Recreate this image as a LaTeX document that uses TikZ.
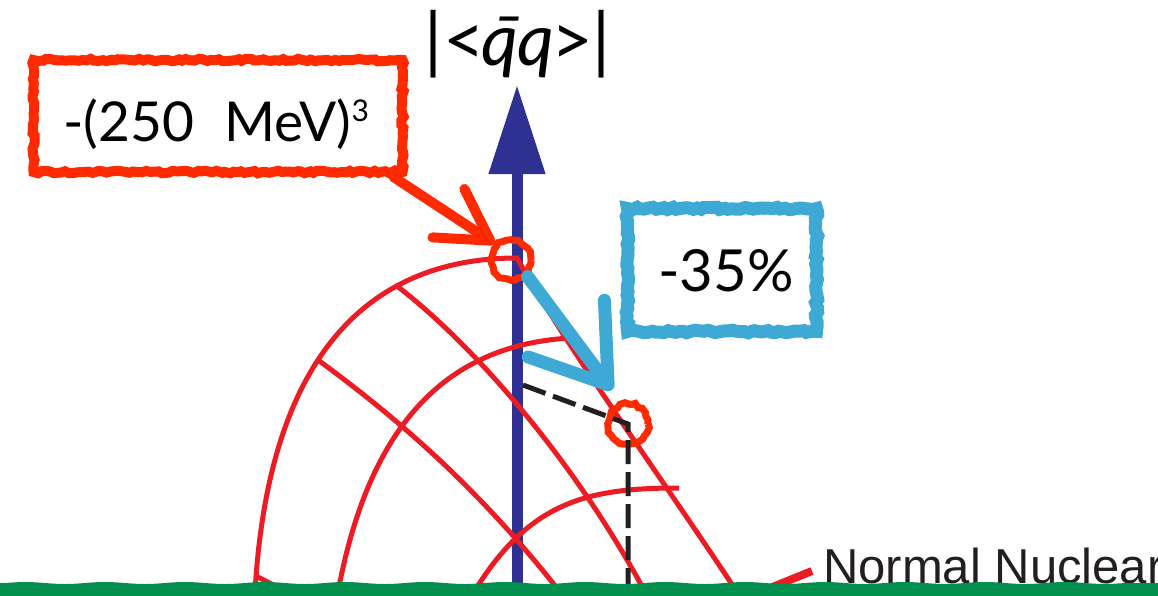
\documentclass[tikz,border=0pt]{standalone}
\usepackage{fontspec}
\setmainfont{Lato}
\newfontfamily\helv{Liberation Sans}
\usepackage{xcolor}
\usetikzlibrary{arrows.meta,decorations.pathmorphing}
\definecolor{phasered}{HTML}{ED1C24}
\definecolor{penred}{HTML}{FF2A00}
\definecolor{penblue}{HTML}{3FA9D6}
\definecolor{axisblue}{HTML}{2E3192}
\definecolor{grass}{HTML}{008F4C}
\definecolor{ink}{HTML}{231F20}
\pgfmathsetseed{7}

\begin{document}
\begin{tikzpicture}[x=1pt,y=-1pt,
  phase/.style={draw=phasered,line width=5pt},
  guide/.style={draw=ink,line width=5pt,dash pattern=on 24pt off 8pt},
  rough/.style={decorate,decoration={random steps,segment length=4pt,amplitude=1.3pt}},
  redbox/.style={draw=penred,line width=10pt,rough,minimum width=369pt,minimum height=112pt},
  bluebox/.style={draw=penblue,line width=13pt,rough,minimum width=189pt,minimum height=123pt},
  ring/.style={circle,draw=penred,line width=7pt,minimum size=40pt,inner sep=0pt,rough},
  redarr/.style={draw=penred,line width=10pt,line cap=round,-{Straight Barb[length=50pt,width=58pt,round]}},
  bluearr/.style={draw=penblue,line width=13pt,line cap=round,-{Straight Barb[length=70pt,width=95pt,round]}},
  axis/.style={draw=axisblue,line width=11pt,-{Triangle[length=89pt,width=54pt]}},
  big/.style={font=\fontsize{55}{58}\selectfont,text=black,inner sep=0pt}
]
\useasboundingbox (0,0) rectangle (1158,595);

% axis
\coordinate (axbase) at (517,595);
\coordinate (axtop) at (517,85);
\draw[axis] (axbase) -- (axtop);
\node[big,font=\fontsize{72}{74}\selectfont] (ylab) at (518,44) {|<\kern-.05em\textit{\=qq}\kern-.05em>|};

% phase lines
\draw[phase] (255,592) .. controls (270,330) and (390,258) .. (517,258)
  .. controls (565,345) and (670,490) .. (737,592);
\draw[phase] (338,592) .. controls (370,420) and (450,345) .. (570,338);
\draw[phase] (474,592) .. controls (530,500) and (590,488) .. (679,488);
\draw[phase] (397,286) .. controls (480,350) and (580,470) .. (645,592);
\draw[phase] (318,360) .. controls (400,420) and (480,490) .. (560,592);
\draw[phase] (256,576) -- (287,592);
\draw[phase,line width=8pt] (770,588) -- (812,571);

% condensate at rho_0
\node[ring] (top) at (511,260) {};
\node[ring] (nuc) at (628,424) {};
\coordinate (axhit) at (523,385);
\coordinate (floor) at (0,592);
\draw[guide] (axhit) -- (nuc.center) -- (nuc.center |- floor);

% callouts
\node[redbox] (r250) at (218,116) {};
\node[big] (r250txt) at (216,124) {-(250\hspace{.55em}MeV)\raisebox{.36em}{\fontsize{30}{30}\selectfont 3}};
\draw[redarr] ([xshift=-14pt]r250.south east) -- (top.north west);
\node[bluebox] (drop) at (722,270) {};
\node[big,font=\fontsize{58}{60}\selectfont] (droptxt) at (726,271) {-35\%};
\coordinate (dropto) at (612,390);
\draw[bluearr] (top.south east) -- (dropto);

% normal nuclear density
\node[anchor=base west,inner sep=0pt,text=ink,font=\helv\fontsize{49}{52}\selectfont] (nnm) at (823,583) {Normal Nuclear};
\fill[grass] (0,583) decorate[decoration={snake,amplitude=1pt,segment length=80pt}]{-- (1158,583)} -- (1158,600) -- (0,600) -- cycle;
\end{tikzpicture}
\end{document}
